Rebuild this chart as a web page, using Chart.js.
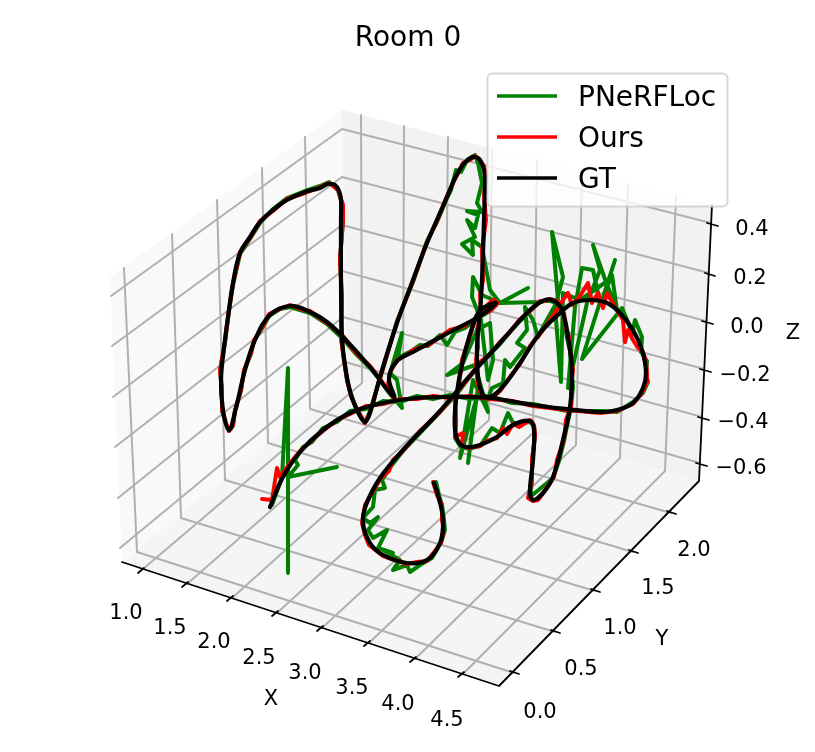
<!DOCTYPE html>
<html>
<head>
<meta charset="utf-8">
<title>Room 0</title>
<script src="https://cdn.jsdelivr.net/npm/chart.js@4"></script>
<style>
    html, body { margin: 0; padding: 0; background: #fff; }
    canvas { display: block; }
</style>
</head>
<body>
<canvas id="mychart" width="815" height="752"></canvas>
<script>
// the picture is a 3D view, so everything is kept in view plane units
var gtPath = [[270,507],[283,477],[300,452],[323,430],[350,413],[383,403],[417,398],[450,397],[490,398],[533,405],[567,409],[600,412],[617,410],[633,403],[643,388],[646,373],[642,350],[633,330],[620,313],[607,303],[590,300],[573,303],[560,313],[540,333],[520,363],[505,384],[494,395],[487,397],[482,393],[478,377],[477,347],[480,313],[482,280],[484,220],[485,180],[484,170],[480,160],[475,157],[469,159],[462,166],[455,178],[447,197],[427,243],[413,280],[397,323],[380,377],[370,413],[365,422],[360,416],[351,395],[345,365],[342,337],[341,280],[341,220],[341,200],[339,191],[335,185],[328,184],[320,188],[305,192],[287,200],[273,210],[260,222],[250,237],[240,253],[233,283],[229,310],[225,340],[221,380],[223,410],[229,430],[235,412],[245,370],[255,340],[270,315],[290,306],[310,312],[327,322],[343,337],[370,367],[394,397],[389,378],[397,361],[413,352],[450,332],[480,316],[496,303],[483,308],[476,317],[463,360],[456,400],[455,430],[460,444],[468,447],[480,445],[497,437],[513,425],[530,421],[534,430],[533,460],[530,492],[533,500],[543,493],[553,477],[563,440],[570,407],[572,370],[568,337],[563,313],[556,302],[545,300],[530,310],[500,343],[468,378],[440,411],[403,450],[380,478],[366,505],[363,523],[370,543],[383,555],[407,563],[427,560],[440,543],[443,520],[438,495],[434,483]];

var oursPath = [[262,499],[272,500],[277,468],[280,477],[285,470],[291,462],[300,451],[312,440],[323,431],[337,420],[350,414],[366,406],[383,404],[400,399],[417,399],[433,396],[450,398],[470,396],[490,399],[512,401],[533,406],[567,410],[600,413],[617,411],[633,404],[642,393],[647,382],[647,373],[646,361],[643,352],[638,348],[633,340],[628,330],[625,342],[623,320],[615,307],[607,293],[603,308],[598,293],[592,303],[588,283],[580,296],[572,305],[568,293],[563,300],[557,310],[548,323],[540,334],[530,346],[520,364],[510,377],[500,391],[493,397],[487,398],[481,394],[478,384],[477,377],[476,360],[478,347],[477,330],[481,313],[480,295],[483,280],[482,250],[486,220],[484,195],[486,177],[484,166],[478,158],[475,156],[470,160],[463,163],[455,179],[447,196],[437,221],[427,242],[413,281],[397,322],[380,378],[370,412],[365,423],[357,409],[351,396],[347,379],[344,361],[341,337],[342,300],[340,260],[343,220],[343,205],[338,190],[329,183],[320,187],[305,193],[287,199],[273,211],[260,221],[250,238],[240,252],[233,284],[229,309],[225,341],[220,370],[222,390],[222,410],[227,426],[229,431],[233,425],[235,410],[241,390],[244,370],[251,353],[254,340],[263,326],[269,314],[280,309],[290,305],[300,309],[310,311],[327,323],[343,336],[355,352],[370,366],[380,379],[390,393],[394,398],[388,385],[390,372],[397,360],[405,356],[413,350],[430,344],[450,330],[465,326],[480,315],[490,311],[498,303],[493,300],[483,309],[475,318],[471,333],[462,360],[459,385],[455,400],[456,420],[455,437],[463,433],[462,445],[468,448],[480,446],[487,441],[497,438],[503,428],[507,434],[513,424],[519,427],[530,420],[534,425],[535,435],[532,460],[532,480],[528,498],[533,501],[538,500],[544,492],[547,487],[554,477],[557,460],[564,440],[566,420],[571,407],[571,385],[573,370],[570,350],[569,337],[565,325],[564,313],[559,306],[557,301],[550,299],[545,301],[540,301],[530,311],[520,319],[510,332],[500,342],[490,354],[480,362],[468,379],[457,392],[440,412],[420,431],[403,451],[393,460],[389,471],[381,478],[372,493],[365,505],[362,523],[365,535],[369,545],[383,556],[395,560],[407,564],[417,562],[427,561],[435,551],[441,543],[444,530],[442,520],[442,505],[437,495],[433,482]];

var pnerflocPath = [[272,505],[282,477],[288,368],[288,573],[288,477],[337,467],[288,477],[298,465],[295,460],[303,447],[312,442],[323,428],[337,422],[350,411],[366,409],[383,401],[400,402],[417,396],[433,399],[450,395],[470,399],[490,396],[512,403],[533,404],[567,411],[600,411],[617,412],[633,402],[643,393],[648,382],[646,373],[647,361],[641,352],[642,337],[635,320],[632,335],[628,322],[622,308],[615,317],[582,359],[600,302],[593,270],[582,268],[575,307],[568,388],[587,303],[600,270],[593,245],[607,285],[615,260],[603,297],[612,275],[617,310],[606,282],[580,300],[563,293],[561,382],[555,307],[563,277],[552,232],[558,300],[543,327],[538,337],[533,320],[525,307],[527,330],[517,343],[525,348],[510,367],[505,360],[503,383],[492,388],[487,400],[478,387],[468,463],[476,400],[460,458],[473,380],[488,412],[475,365],[447,375],[463,363],[477,330],[490,323],[493,360],[488,380],[481,320],[472,297],[473,277],[482,295],[500,303],[528,288],[500,303],[542,302],[500,303],[490,290],[485,263],[482,247],[472,240],[473,255],[462,244],[475,237],[467,220],[475,228],[478,215],[467,211],[482,212],[477,203],[482,183],[478,163],[475,155],[467,160],[461,172],[456,170],[451,190],[447,198],[437,222],[427,241],[413,282],[397,321],[380,379],[370,411],[365,423],[357,411],[351,394],[347,381],[344,359],[341,338],[342,301],[340,259],[343,221],[342,204],[338,190],[329,182],[320,186],[305,191],[287,198],[273,209],[260,223],[250,239],[240,254],[233,285],[229,311],[225,342],[220,371],[222,391],[222,411],[227,427],[229,431],[233,426],[235,411],[241,391],[244,371],[251,354],[254,341],[263,327],[269,316],[280,309],[290,307],[300,310],[310,313],[327,324],[343,339],[355,353],[370,368],[380,380],[390,394],[402,408],[397,380],[390,373],[402,333],[398,358],[413,350],[420,345],[428,346],[440,335],[447,345],[455,332],[465,328],[480,317],[490,311],[496,305],[483,310],[475,319],[470,335],[462,362],[458,386],[455,402],[456,422],[455,438],[460,446],[468,449],[480,446],[492,428],[500,433],[508,413],[513,423],[522,423],[530,422],[534,426],[535,436],[532,461],[532,481],[530,497],[547,483],[553,478],[559,461],[564,441],[568,421],[571,408],[573,386],[571,371],[570,351],[567,338],[565,326],[562,314],[559,307],[555,303],[550,301],[544,301],[539,303],[530,311],[520,321],[510,332],[500,344],[490,354],[480,364],[468,379],[457,394],[440,412],[420,433],[403,451],[392,465],[382,480],[385,488],[375,490],[373,507],[363,518],[370,523],[378,517],[368,530],[373,538],[387,530],[378,548],[393,553],[383,550],[400,560],[393,570],[407,565],[410,572],[420,565],[432,558],[442,540],[445,530],[444,520],[442,505],[439,495],[436,482]];

var seriesNames = ['PNeRFLoc', 'Ours', 'GT'];
var seriesColors = ['#008000', '#ff0000', '#000000'];

var xTickLabels = ['1.0', '1.5', '2.0', '2.5', '3.0', '3.5', '4.0', '4.5'];
var yTickLabels = ['0.0', '0.5', '1.0', '1.5', '2.0'];
var zTickLabels = ['0.4', '0.2', '0.0', '\u22120.2', '\u22120.4', '\u22120.6'];

// where each axis sits in the view plane
var leftPane = [[110,277],[342,110],[347,378],[122,562]];
var backPane = [[342,110],[712,205],[699,481],[347,378]];
var floorPane = [[122,562],[347,378],[699,481],[499,686]];

var xGrid = [[[361,115],[362,383],[143,569]],[[404,126],[403,395],[187,584]],[[448,137],[445,407],[232,598]],[[492,149],[489,420],[277,613]],[[537,160],[533,433],[322,628]],[[582,172],[576,445],[369,643]],[[628,184],[620,458],[415,659]],[[676,196],[665,471],[463,674]]];
var yGrid = [[[124,268],[137,552],[514,673]],[[172,234],[181,518],[555,632]],[[217,200],[225,480],[595,591]],[[262,168],[268,443],[633,552]],[[305,137],[310,409],[671,513]]];
var zGrid = [[[111,296],[342,129],[711,223]],[[112,346],[342,177],[709,273]],[[113,397],[342,225],[706,321]],[[115,447],[342,271],[704,369]],[[118,498],[343,317],[702,417]],[[120,548],[345,362],[700,463]]];

var axisLines = [[[122,562],[499,686],[699,481],[712,205]]];
var tickMarks = [[[138,573],[144,568]],[[182,587],[188,582]],[[227,601],[233,596]],[[272,616],[278,611]],[[317,631],[323,626]],[[364,646],[370,641]],[[410,662],[416,657]],[[458,677],[464,672]],
    [[510,671],[519,674]],[[551,630],[560,633]],[[591,589],[600,592]],[[629,550],[638,553]],[[667,511],[676,514]],
    [[707,223],[718,226]],[[705,273],[715,276]],[[702,321],[713,324]],[[700,369],[711,372]],[[698,417],[709,420]],[[696,463],[707,466]]];

var xTickSpots = [[126,612],[170,627],[214,641],[259,657],[305,672],[352,687],[398,703],[447,719]];
var yTickSpots = [[540,711],[581,668],[620,627],[658,587],[694,549]];
var zTickSpots = [[752,228],[750,277],[747,326],[745,374],[743,421],[741,467]];
var axisTitles = [['X', 271, 698], ['Y', 662, 638], ['Z', 793, 332]];
var chartTitle = ['Room 0', 408, 36];

function toPoints(path) {
    return path.map(function (p) { return { x: p[0], y: p[1] }; });
}

// several polylines in one dataset, split with gaps
function joinLines(lines) {
    var pts = [];
    lines.forEach(function (line) {
        line.forEach(function (p) { pts.push({ x: p[0], y: p[1] }); });
        pts.push({ x: null, y: null });
    });
    return pts;
}

function lineSet(data, color, width, tension) {
    return {
        data: data,
        showLine: true,
        borderColor: color,
        borderWidth: width,
        pointRadius: 0,
        tension: tension || 0,
        borderJoinStyle: 'round',
        borderCapStyle: 'round',
        spanGaps: false
    };
}

function textAt(chart, ctx, str, x, y, align) {
    ctx.textAlign = align || 'center';
    // canvas middle sits a bit above the digit centre
    ctx.fillText(str, chart.scales.x.getPixelForValue(x), chart.scales.y.getPixelForValue(y) + 2);
}

var paperPlugin = {
    id: 'paper',
    beforeDatasetsDraw: function (chart) {
        var ctx = chart.ctx;
        var panes = [[leftPane, '#f9f9f9'], [backPane, '#f2f2f2'], [floorPane, '#f5f5f5']];
        panes.forEach(function (pane) {
            ctx.beginPath();
            pane[0].forEach(function (p, i) {
                var px = chart.scales.x.getPixelForValue(p[0]);
                var py = chart.scales.y.getPixelForValue(p[1]);
                if (i === 0) ctx.moveTo(px, py); else ctx.lineTo(px, py);
            });
            ctx.closePath();
            ctx.fillStyle = pane[1];
            ctx.fill();
        });
    },
    afterDatasetsDraw: function (chart) {
        var ctx = chart.ctx;
        ctx.save();
        ctx.fillStyle = '#000';
        ctx.textBaseline = 'middle';
        ctx.font = '21px "DejaVu Sans"';
        xTickLabels.forEach(function (t, i) { textAt(chart, ctx, t, xTickSpots[i][0], xTickSpots[i][1]); });
        yTickLabels.forEach(function (t, i) { textAt(chart, ctx, t, yTickSpots[i][0], yTickSpots[i][1]); });
        zTickLabels.forEach(function (t, i) { textAt(chart, ctx, t, zTickSpots[i][0], zTickSpots[i][1]); });
        axisTitles.forEach(function (t) { textAt(chart, ctx, t[0], t[1], t[2]); });
        ctx.font = '28px "DejaVu Sans"';
        textAt(chart, ctx, chartTitle[0], chartTitle[1], chartTitle[2] + 1);

        // legend box, upper right
        ctx.beginPath();
        ctx.roundRect(487.5, 73.5, 240, 133, 5);
        ctx.fillStyle = 'rgba(255,255,255,0.8)';
        ctx.fill();
        ctx.strokeStyle = 'rgba(204,204,204,0.8)';
        ctx.lineWidth = 2;
        ctx.stroke();
        var rows = [96, 137, 178];
        ctx.font = '28px "DejaVu Sans"';
        seriesNames.forEach(function (name, i) {
            ctx.strokeStyle = seriesColors[i];
            ctx.lineWidth = 3.3;
            ctx.beginPath();
            ctx.moveTo(497, rows[i]);
            ctx.lineTo(557, rows[i]);
            ctx.stroke();
            ctx.fillStyle = '#000';
            ctx.textAlign = 'left';
            ctx.fillText(name, 578, rows[i] + 3);
        });
        ctx.restore();
    }
};

const ctr = document.getElementById('mychart');

// chart.js paints the first dataset last, so the top curve goes first
new Chart(ctr, {
    type: 'scatter',
    data: {
        datasets: [
            lineSet(toPoints(gtPath), seriesColors[2], 4.2, 0.4),
            lineSet(toPoints(oursPath), seriesColors[1], 4),
            lineSet(toPoints(pnerflocPath), seriesColors[0], 4),
            lineSet(joinLines(tickMarks), '#000000', 1.8),
            lineSet(joinLines(axisLines), '#000000', 1.8),
            lineSet(joinLines(zGrid), '#b0b0b0', 2),
            lineSet(joinLines(yGrid), '#b0b0b0', 2),
            lineSet(joinLines(xGrid), '#b0b0b0', 2)
        ]
    },
    options: {
        responsive: false,
        animation: false,
        layout: { padding: 0 },
        plugins: { legend: { display: false }, tooltip: { enabled: false }, title: { display: false } },
        scales: {
            x: { type: 'linear', min: 0, max: 815, display: false },
            y: { type: 'linear', min: 0, max: 752, reverse: true, display: false }
        }
    },
    plugins: [paperPlugin]
});
</script>
</body>
</html>
